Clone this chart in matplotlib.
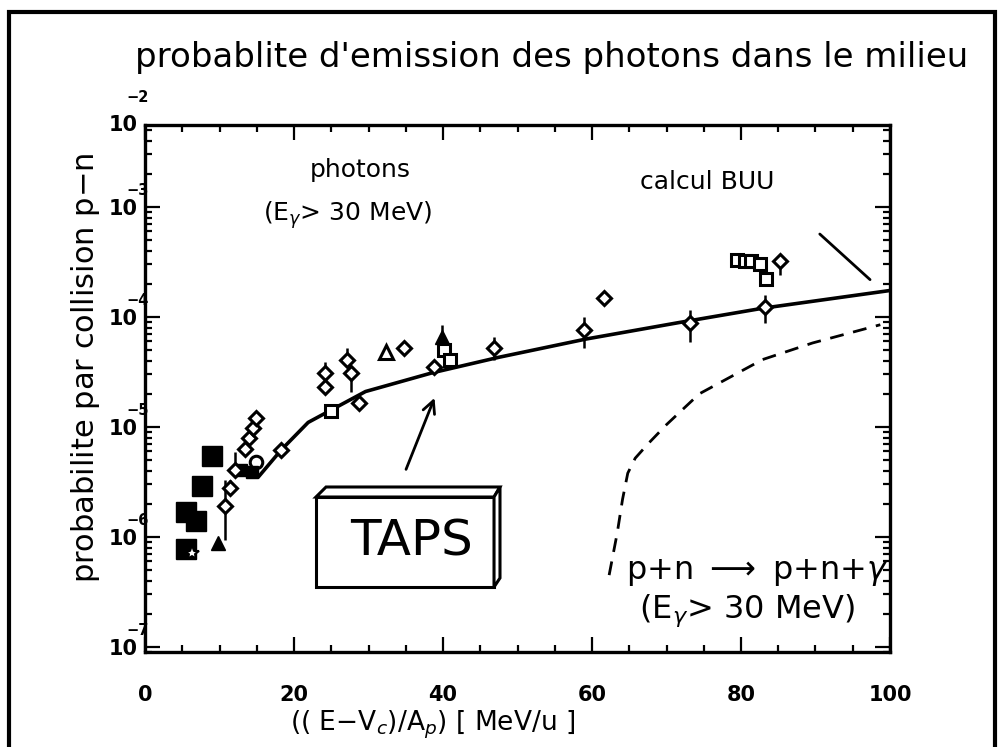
import numpy as np
import matplotlib.pyplot as plt
from matplotlib.patches import Polygon, Rectangle
from matplotlib.ticker import FixedLocator, MultipleLocator, NullFormatter

plt.rcParams['font.family'] = ['DejaVu Sans']

# calcul BUU (trait plein)
buu_x = [15.2, 18.3, 21.9, 24.6, 29.6, 38.5, 47.5, 59.2, 71.7, 82.9, 100.0]
buu_y = [3.5e-6, 6.2e-6, 1.1e-5, 1.38e-5, 2.1e-5, 3.1e-5, 4.3e-5, 6.3e-5, 8.9e-5, 1.2e-4, 1.74e-4]

# p+n -> p+n+gamma (tirets)
pn_x = [62.3, 63.4, 64.1, 64.8, 65.8, 67.5, 70.0, 74.4, 82.9, 89.6, 98.7]
pn_y = [4.5e-7, 1.1e-6, 2.2e-6, 3.8e-6, 5.2e-6, 7.0e-6, 1.05e-5, 2.0e-5, 4.1e-5, 5.8e-5, 8.5e-5]

# losanges ouverts avec barres d'erreur
diam_x = [10.8, 11.4, 12.1, 13.4, 14.0, 14.5, 14.9, 18.3, 24.2, 24.2, 27.1, 27.7, 28.7,
          34.7, 38.8, 46.8, 58.9, 61.6, 73.1, 83.2, 85.2]
diam_y = [1.9e-6, 2.8e-6, 4.1e-6, 6.3e-6, 7.9e-6, 9.8e-6, 1.2e-5, 6.2e-6, 3.1e-5, 2.3e-5,
          4.1e-5, 3.1e-5, 1.66e-5, 5.2e-5, 3.5e-5, 5.2e-5, 7.6e-5, 1.5e-4, 8.9e-5, 1.23e-4, 3.2e-4]
diam_lo = [9.3e-7, 2.5e-6, 4.1e-6, 6.3e-6, 7.9e-6, 9.8e-6, 1.2e-5, 6.2e-6, 3.1e-5, 2.3e-5,
           4.1e-5, 2.1e-5, 1.66e-5, 5.2e-5, 3.5e-5, 4.1e-5, 5.2e-5, 1.5e-4, 5.9e-5, 8.9e-5, 2.4e-4]
diam_hi = [3.3e-6, 3.3e-6, 5.9e-6, 6.3e-6, 7.9e-6, 9.8e-6, 1.2e-5, 6.2e-6, 3.9e-5, 2.3e-5,
           5.2e-5, 3.1e-5, 1.66e-5, 5.2e-5, 3.5e-5, 6.6e-5, 1.0e-4, 1.5e-4, 1.15e-4, 1.6e-4, 3.6e-4]

# carres pleins
fsq_x = [5.5, 6.9, 5.5, 7.7, 9.0]
fsq_y = [7.8e-7, 1.4e-6, 1.7e-6, 2.9e-6, 5.5e-6]
fsq2_x = [12.9, 14.3]
fsq2_y = [4.1e-6, 3.9e-6]

# carres ouverts
osq_x = [25.0, 40.1, 41.0, 79.4, 80.5, 81.4, 82.5, 83.4]
osq_y = [1.4e-5, 5.0e-5, 4.1e-5, 3.3e-4, 3.2e-4, 3.2e-4, 3.0e-4, 2.2e-4]

# triangles pleins / ouverts, etoile, cercle
ftri_x = [9.8, 39.8]
ftri_y = [8.9e-7, 6.6e-5]
ftri_hi = [8.9e-7, 8.5e-5]
otri_x = [32.3]
otri_y = [4.8e-5]
star_x = [6.3]
star_y = [7.2e-7]
circ_x = [14.9]
circ_y = [4.8e-6]

# graduations de l'axe y
y_decades = [1e-7, 1e-6, 1e-5, 1e-4, 1e-3]
y_exponents = ['-7', '-6', '-5', '-4', '-3']

W, H = 1004, 747
fig = plt.figure(figsize=(W / 100, H / 100), dpi=100)
L, R, T, B = 145, 890, 125, 652
ax = fig.add_axes([L / W, 1 - B / H, (R - L) / W, (B - T) / H])

ax.set_yscale('log')
ax.set_xlim(0, 100)
ax.set_ylim(9.0e-8, 5.56e-3)

ax.plot(buu_x, buu_y, color='black', lw=2.6, solid_capstyle='round', zorder=3)
ax.plot(pn_x, pn_y, color='black', lw=2.0, ls=(0, (5, 3.5)), zorder=3)

d_y = np.array(diam_y)
yerr = [d_y - np.array(diam_lo), np.array(diam_hi) - d_y]
ax.errorbar(diam_x, diam_y, yerr=yerr, fmt='D', ms=7, mfc='white', mec='black', mew=2.2,
            ecolor='black', elinewidth=1.8, capsize=0, zorder=4)
ax.plot(fsq_x, fsq_y, 's', ms=15, color='black', zorder=4)
ax.plot(fsq2_x, fsq2_y, 's', ms=9, color='black', zorder=4)
ax.plot(osq_x, osq_y, 's', ms=9, mfc='white', mec='black', mew=2.2, zorder=5)
ftri_err = [np.zeros(len(ftri_y)), np.array(ftri_hi) - np.array(ftri_y)]
ax.errorbar(ftri_x, ftri_y, yerr=ftri_err, fmt='^', ms=10, color='black',
            elinewidth=1.8, capsize=0, zorder=5)
ax.plot(otri_x, otri_y, '^', ms=10, mfc='white', mec='black', mew=2.2, zorder=5)
ax.plot(star_x, star_y, '*', ms=11, mfc='white', mec='black', mew=1.5, zorder=6)
ax.plot(circ_x, circ_y, 'o', ms=9, mfc='none', mec='black', mew=2.2, zorder=6)

# ticks
ax.yaxis.set_major_locator(FixedLocator(y_decades))
ax.set_yticklabels(['10'] * len(y_decades))
ax.yaxis.set_minor_locator(FixedLocator([m * 10.0 ** e for e in range(-8, -2) for m in range(2, 10)]))
ax.yaxis.set_minor_formatter(NullFormatter())
ax.xaxis.set_major_locator(MultipleLocator(20))
ax.xaxis.set_minor_locator(MultipleLocator(5))
ax.tick_params(which='both', direction='in', top=True, right=True, width=1.6)
ax.tick_params(which='major', length=11)
ax.tick_params(which='minor', length=5)
ax.tick_params(axis='x', labelsize=15, pad=24)
ax.tick_params(axis='y', labelsize=15, pad=5)
for t in ax.get_xticklabels() + ax.get_yticklabels():
    t.set_fontweight('bold')
for s in ax.spines.values():
    s.set_linewidth(2.4)

# exposants au-dessus des "10"
for v, e in zip(y_decades, y_exponents):
    ax.annotate(e.replace('-', '\u2212'), xy=(0, v), xycoords=('axes fraction', 'data'),
                xytext=(3, 11.5), textcoords='offset points', ha='right', va='center',
                fontsize=10.5, fontweight='bold', annotation_clip=False)
ax.text(-0.01, 1.0, '10', transform=ax.transAxes, ha='right', va='center',
        fontsize=15, fontweight='bold')
ax.annotate('\u22122', xy=(0, 1.0), xycoords='axes fraction', xytext=(3, 20),
            textcoords='offset points', ha='right', va='center', fontsize=10.5,
            fontweight='bold', annotation_clip=False)

# annotations
ax.text(0.289, 0.914, 'photons', transform=ax.transAxes, ha='center', va='center', fontsize=18)
ax.text(0.272, 0.829, r'(E$_\gamma$> 30 MeV)', transform=ax.transAxes, ha='center',
        va='center', fontsize=18)
ax.text(0.664, 0.891, 'calcul BUU', transform=ax.transAxes, ha='left', va='center', fontsize=18)
ax.annotate('', xy=(97.6, 2.1e-4), xytext=(90.3, 5.9e-4),
            arrowprops=dict(arrowstyle='-', lw=2.0, color='black'))
ax.text(0.998, 0.150, r'p+n $\longrightarrow$ p+n+$\gamma$', transform=ax.transAxes,
        ha='right', va='center', fontsize=23)
ax.text(0.808, 0.078, r'(E$_\gamma$> 30 MeV)', transform=ax.transAxes, ha='center',
        va='center', fontsize=23)

# boite TAPS
front = Rectangle((0.2295, 0.1233), 0.239, 0.1708, transform=ax.transAxes,
                  fc='white', ec='black', lw=2.2, zorder=6)
top = Polygon([(0.2295, 0.2941), (0.2430, 0.3131), (0.4765, 0.3131), (0.4685, 0.2941)],
              closed=True, transform=ax.transAxes, fc='white', ec='black', lw=2.2, zorder=6)
side = Polygon([(0.4685, 0.2941), (0.4765, 0.3131), (0.4765, 0.1404), (0.4685, 0.1233)],
               closed=True, transform=ax.transAxes, fc='white', ec='black', lw=2.2, zorder=6)
for p in (front, top, side):
    ax.add_patch(p)
ax.text(0.358, 0.21, 'TAPS', transform=ax.transAxes, ha='center', va='center',
        fontsize=36, zorder=7)
ax.annotate('', xy=(39.0, 1.94e-5), xytext=(34.9, 3.9e-6),
            arrowprops=dict(arrowstyle='->', lw=2.0, color='black', mutation_scale=22))

# titres
fig.text(552 / W, 1 - 58 / H, "probablite d'emission des photons dans le milieu",
         ha='center', va='center', fontsize=24.5)
fig.text(433 / W, 1 - 725 / H, r'(( E$-$V$_c$)/A$_p$) [ MeV/u ]', ha='center', va='center',
         fontsize=19)
fig.text(86 / W, 1 - 368 / H, r'probabilite par collision p$-$n', rotation=90,
         ha='center', va='center', fontsize=22)

# cadre exterieur
fig.patches.append(Rectangle((9 / W, -0.05), 986 / W, 1.05 - 12 / H, transform=fig.transFigure,
                             fill=False, ec='black', lw=3))

fig.savefig('out.png', dpi=100)
